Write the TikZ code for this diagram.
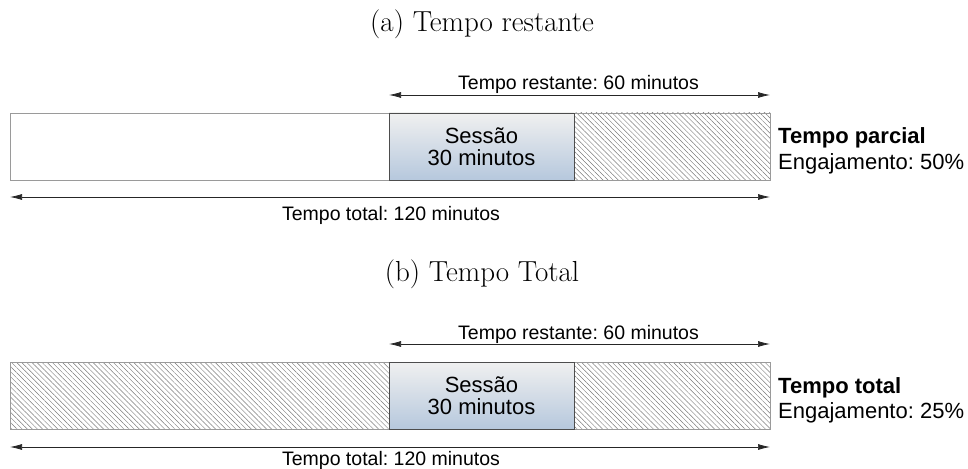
\documentclass[tikz,border=0pt]{standalone}
\usepackage{fontspec}
\setsansfont{Liberation Sans}
\usetikzlibrary{patterns.meta,arrows.meta}
\frenchspacing
\definecolor{barline}{HTML}{9A9A9A}
\definecolor{sessline}{HTML}{4D4D4D}
\definecolor{hatch}{HTML}{7A7A7A}
\definecolor{sesstop}{HTML}{F0F0F0}
\definecolor{sessbot}{HTML}{B6C8DD}
\tikzset{
  x=1pt,y=-1pt,
  lbl/.style={font=\sffamily\fontsize{19.5}{22}\selectfont\frenchspacing, inner sep=0pt, anchor=base},
  side/.style={font=\sffamily\fontsize{22}{24}\selectfont\frenchspacing, inner sep=0pt, anchor=base west},
  ttl/.style={font=\rmfamily\fontsize{29}{32}\selectfont, inner sep=0pt, anchor=base},
  bar/.style={draw=barline, line width=0.8pt},
  hatched/.style={bar, pattern={Lines[angle=-45,distance=3.6pt,line width=0.45pt]}, pattern color=hatch},
  sess/.style={draw=sessline, line width=0.9pt, top color=sesstop, bottom color=sessbot, align=center, font=\sffamily\fontsize{22}{22}\selectfont, minimum width=185pt, minimum height=67pt, inner sep=0pt},
  dim/.style={draw=black!85, line width=0.7pt, {Latex[length=12pt,width=6pt]}-{Latex[length=12pt,width=6pt]}},
}
\begin{document}
\begin{tikzpicture}
\useasboundingbox (0,0) rectangle (968,468);
% ---------- (a)
\node[ttl] (ta) at (482,32) {(a) Tempo restante};
\path[bar] (10,113) rectangle (389,180);
\path[hatched] (574,113) rectangle (770,180);
\node[sess] (sa) at (481.5,146.5) {Sessão\\30 minutos};
\coordinate (a1) at (389,95);
\coordinate (a2) at (770,95);
\draw[dim] (a1) -- (a2);
\node[lbl] (la) at (578.5,90) {Tempo restante: 60 minutos};
\coordinate (a3) at (10,197);
\coordinate (a4) at (770,197);
\draw[dim] (a3) -- (a4);
\node[lbl] (lb) at (391,220) {Tempo total: 120 minutos};
\node[side] (ra1) at (778,143) {\bfseries Tempo parcial};
\node[side] (ra2) at (778,169) {Engajamento: 50\%};
% ---------- (b)
\node[ttl] (tb) at (482,281) {(b) Tempo Total};
\path[hatched] (10,362) rectangle (389,429);
\path[hatched] (574,362) rectangle (770,429);
\node[sess] (sb) at (481.5,395.5) {Sessão\\30 minutos};
\coordinate (b1) at (389,344);
\coordinate (b2) at (770,344);
\draw[dim] (b1) -- (b2);
\node[lbl] (lc) at (578.5,339) {Tempo restante: 60 minutos};
\coordinate (b3) at (10,447);
\coordinate (b4) at (770,447);
\draw[dim] (b3) -- (b4);
\node[lbl] (ld) at (391,465) {Tempo total: 120 minutos};
\node[side] (rb1) at (778,393) {\bfseries Tempo total};
\node[side] (rb2) at (778,418) {Engajamento: 25\%};
\end{tikzpicture}
\end{document}
